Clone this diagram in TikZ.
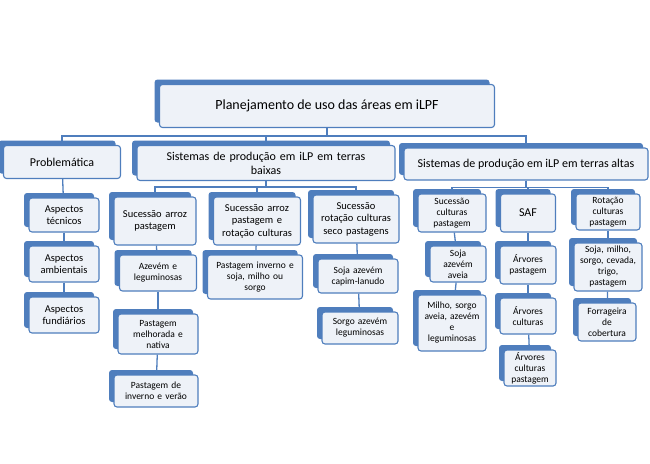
\documentclass[tikz,border=0pt]{standalone}
\usepackage{fontspec}
\setmainfont{Carlito}
\usetikzlibrary{shadows}
\definecolor{boxblue}{HTML}{4F7EBD}
\definecolor{boxfill}{HTML}{EEF2F8}
\tikzset{%
  % Specifications for style of nodes:
          box/.style = {rectangle, rounded corners=3pt, draw=boxblue, line width=1.1pt,
                        fill=boxfill, align=center, inner sep=1pt,
                        font=\fontsize{10.5}{12.5}\selectfont,
                        general shadow={shadow xshift=-5pt, shadow yshift=5pt,
                        fill=boxblue, rounded corners=3pt}},
      topbox/.style = {box, font=\fontsize{14}{16}\selectfont},
     headbox/.style = {box, font=\fontsize{12}{14}\selectfont},
    smallbox/.style = {box, font=\fontsize{9.5}{11}\selectfont},
         con/.style = {draw=boxblue, line width=1.3pt},
}
\begin{document}
\begin{tikzpicture}[x=1pt, y=-1pt]
  \useasboundingbox (0,0) rectangle (650,463);
  % Specification of nodes (position, etc.)
  \node (root)  [topbox, minimum width=335pt, minimum height=43pt] at (327,106) {Planejamento de uso das áreas em iLPF};

  \node (prob)  [headbox, minimum width=117pt, minimum height=33pt] at (62,162) {Problemática};
  \node (baixas)[headbox, minimum width=258pt, minimum height=35pt, text width=250pt] at (266,163) {Sistemas de produção em iLP em terras\\baixas};
  \node (altas) [headbox, minimum width=244pt, minimum height=32pt] at (526,164) {Sistemas de produção em iLP em terras altas};

  \node (tec)   [box, minimum width=70pt, minimum height=34pt, text width=66pt] at (64,215) {Aspectos\\técnicos};
  \node (amb)   [box, minimum width=70pt, minimum height=36pt, text width=66pt] at (64,264) {Aspectos\\ambientais};
  \node (fund)  [box, minimum width=70pt, minimum height=36pt, text width=66pt] at (64,315) {Aspectos\\fundiários};

  \node (sap)   [box, minimum width=82pt, minimum height=48pt, text width=78pt] at (155,221) {Sucessão arroz\\pastagem};
  \node (saprc) [box, minimum width=87pt, minimum height=48pt, text width=83pt] at (257,221) {Sucessão arroz\\pastagem e\\rotação culturas};
  \node (srcs)  [box, minimum width=86pt, minimum height=48pt, text width=84pt] at (356,219) {Sucessão\\rotação culturas\\seco pastagens};

  \node (azl)   [smallbox, minimum width=77pt, minimum height=36pt, text width=73pt] at (158,273) {Azevém e\\leguminosas};
  \node (pmn)   [smallbox, minimum width=80pt, minimum height=40pt, text width=76pt] at (158,334) {Pastagem\\melhorada e\\nativa};
  \node (piv)   [smallbox, minimum width=84pt, minimum height=32pt, text width=80pt] at (156,391) {Pastagem de\\inverno e verão};
  \node (pis)   [smallbox, minimum width=95pt, minimum height=44pt, text width=93pt] at (255,277) {Pastagem inverno e\\soja, milho ou\\sorgo};
  \node (sac)   [smallbox, minimum width=80pt, minimum height=34pt, text width=76pt] at (358,276) {Soja azevém\\capim-lanudo};
  \node (sal)   [smallbox, minimum width=76pt, minimum height=32pt, text width=72pt] at (360,328) {Sorgo azevém\\leguminosas};

  \node (scp)   [smallbox, minimum width=68pt, minimum height=38pt, text width=64pt] at (452,213) {Sucessão\\culturas\\pastagem};
  \node (saf)   [headbox, minimum width=55pt, minimum height=38pt] at (528,213) {SAF};
  \node (rcp)   [smallbox, minimum width=64pt, minimum height=36pt, text width=62pt] at (608,212) {Rotação\\culturas\\pastagem};

  \node (saa)   [smallbox, minimum width=56pt, minimum height=36pt, text width=52pt] at (458,264) {Soja\\azevém\\aveia};
  \node (msa)   [smallbox, minimum width=68pt, minimum height=56pt, text width=66pt] at (452,323) {Milho, sorgo\\aveia, azevém\\e\\leguminosas};
  \node (ap)    [smallbox, minimum width=56pt, minimum height=38pt, text width=52pt] at (528,265) {Árvores\\pastagem};
  \node (ac)    [smallbox, minimum width=56pt, minimum height=36pt, text width=52pt] at (528,316) {Árvores\\culturas};
  \node (acp)   [smallbox, minimum width=52pt, minimum height=36pt, text width=50pt] at (530,368) {Árvores\\culturas\\pastagem};
  \node (smst)  [smallbox, minimum width=66pt, minimum height=48pt, text width=66pt] at (608,267) {Soja, milho,\\sorgo, cevada,\\trigo,\\pastagem};
  \node (fc)    [smallbox, minimum width=58pt, minimum height=38pt, text width=54pt] at (607,322) {Forrageira\\de\\cobertura};

  % connectors
  \draw[con] (root.south) -- ++(0,8) -| (prob.north);
  \draw[con] (root.south) -- ++(0,8) -| (baixas.north);
  \draw[con] (root.south) -- ++(0,8) -| (altas.north);

  \draw[con] (prob) -- (tec);
  \draw[con] (tec) -- (amb);
  \draw[con] (amb) -- (fund);

  \draw[con] (baixas.south) -- ++(0,6) -| (sap.north);
  \draw[con] (baixas.south) -- ++(0,6) -| (saprc.north);
  \draw[con] (baixas.south) -- ++(0,6) -| (srcs.north);
  \draw[con] (sap) -- (azl);
  \draw[con] (azl) -- (pmn);
  \draw[con] (pmn) -- (piv);
  \draw[con] (saprc) -- (pis);
  \draw[con] (srcs) -- (sac);
  \draw[con] (sac) -- (sal);

  \draw[con] (altas.south) -- ++(0,7) -| (scp.north);
  \draw[con] (altas.south) -- ++(0,7) -| (saf.north);
  \draw[con] (altas.south) -- ++(0,7) -| (rcp.north);
  \draw[con] (scp) -- (saa);
  \draw[con] (saa) -- (msa);
  \draw[con] (saf) -- (ap);
  \draw[con] (ap) -- (ac);
  \draw[con] (ac) -- (acp);
  \draw[con] (rcp) -- (smst);
  \draw[con] (smst) -- (fc);
\end{tikzpicture}
\end{document}
